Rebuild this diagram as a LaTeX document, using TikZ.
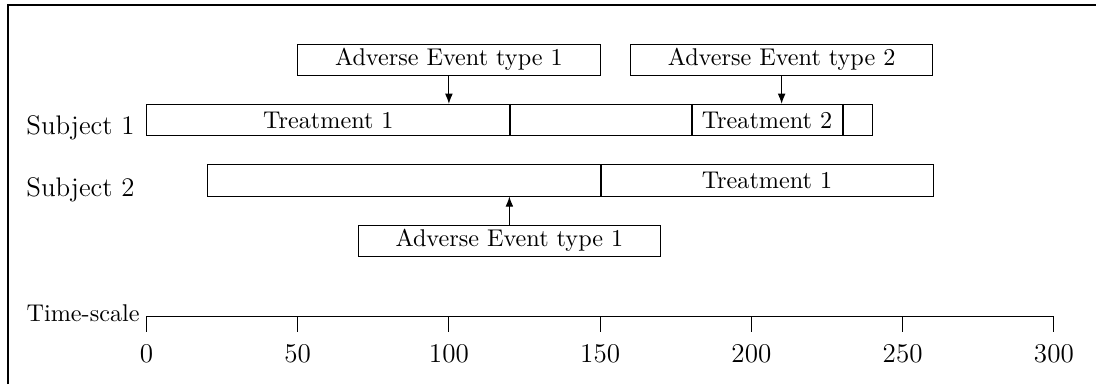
\documentclass[tikz,border=0pt]{standalone}
\usepackage{fontspec}
\usetikzlibrary{arrows.meta}

\tikzset{
  seg/.style={draw, rectangle, inner sep=0pt, minimum height=13pt, anchor=west},
  aebox/.style={draw, rectangle, inner sep=0pt, minimum height=12.8pt, minimum width=125pt},
  divider/.style={line width=0.8pt},
  aearrow/.style={-{Latex[length=4.2pt,width=3.2pt]}},
  rowlabel/.style={anchor=base east, inner sep=0pt, font=\fontsize{11.1}{13}\selectfont},
  ticklabel/.style={inner sep=0pt, font=\fontsize{11.2}{13}\selectfont},
  frameline/.style={line width=0.5pt}
}

\begin{document}
\begin{tikzpicture}[x=1.25pt, y=-1pt]
  % one x unit is one time unit; y is measured in pt from the top
  \useasboundingbox (-48.4,0) rectangle (313.92,158.7);

  % outer frame (top and left edges)
  \draw[frameline] (-45.76,158.7) -- (-45.76,2.07) -- (313.92,2.07);

  % Subject 1 timeline
  \node[rowlabel] (lab1) at (-3.76,55.4) {Subject 1};
  \node[seg, minimum width=150pt]  (s1a) at (0,49.6)   {Treatment 1};
  \node[seg, minimum width=75pt]   (s1b) at (120,49.6) {};
  \node[seg, minimum width=62.5pt] (s1c) at (180,49.6) {Treatment 2};
  \node[seg, minimum width=12.5pt] (s1d) at (230,49.6) {};
  \draw[divider] (s1a.north east) -- (s1a.south east);
  \draw[divider] (s1b.north east) -- (s1b.south east);
  \draw[divider] (s1c.north east) -- (s1c.south east);

  % Subject 2 timeline
  \node[rowlabel] (lab2) at (-3.76,81.4) {Subject 2};
  \node[seg, minimum width=162.5pt] (s2a) at (20,74.5)  {};
  \node[seg, minimum width=137.5pt] (s2b) at (150,74.5) {Treatment 1};
  \draw[divider] (s2a.north east) -- (s2a.south east);

  % adverse events
  \node[aebox] (ae1) at (100,24.6) {Adverse Event type 1};
  \node[aebox] (ae2) at (210,24.6) {Adverse Event type 2};
  \node[aebox] (ae3) at (120,99.5) {Adverse Event type 1};
  \draw[aearrow] (ae1.south) -- (ae1.south |- s1a.north);
  \draw[aearrow] (ae2.south) -- (ae2.south |- s1c.north);
  \draw[aearrow] (ae3.north) -- (ae3.north |- s2a.south);

  % time axis
  \node[anchor=base east, inner sep=0pt] (tsl) at (-2.08,133) {Time-scale};
  \coordinate (axl) at (0,130.9);
  \coordinate (axr) at (300,130.9);
  \draw (axl) -- (axr);
  \foreach \t in {0,50,...,300} {
    \draw (\t,130.9) -- (\t,137.1);
    \node[ticklabel] (tick\t) at (\t,146.1) {\t};
  }
\end{tikzpicture}
\end{document}
